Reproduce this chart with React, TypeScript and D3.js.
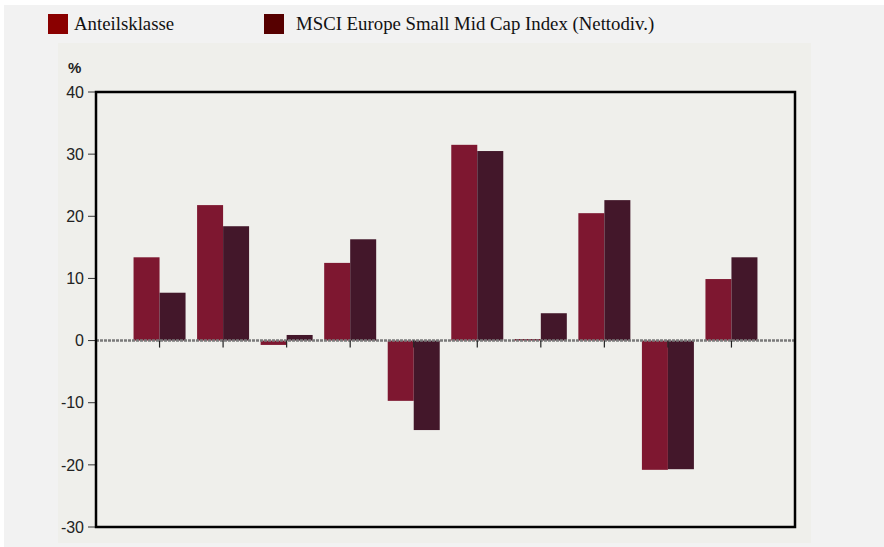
import React from "react";
import * as d3 from "d3";

const categories = ["1", "2", "3", "4", "5", "6", "7", "8", "9", "10"];
const seriesNames = ["Anteilsklasse", "MSCI Europe Small Mid Cap Index (Nettodiv.)"];
const fundValues = [13.4, 21.8, -0.7, 12.5, -9.7, 31.5, 0.25, 20.5, -20.8, 9.9];
const indexValues = [7.7, 18.4, 0.9, 16.3, -14.4, 30.5, 4.4, 22.6, -20.7, 13.4];
const yTicks = [-30, -20, -10, 0, 10, 20, 30, 40];

const W = 884;
const H = 547;
const plot = { left: 96, right: 795, top: 92, bottom: 527 };
const barColors = ["#7e1730", "#43172a"];
const legendColors = ["#8a0000", "#560000"];

export default function App() {
  const x = d3
    .scalePoint<string>()
    .domain(categories)
    .range([plot.left, plot.right])
    .padding(1);
  const y = d3.scaleLinear().domain([-30, 40]).range([plot.bottom, plot.top]);
  const barW = 26;
  const y0 = y(0);
  const series = [fundValues, indexValues];
  const legendPos = [
    { sq: 48, tx: 74 },
    { sq: 264, tx: 296 },
  ];

  return (
    <svg
      width={W}
      height={H}
      style={{ position: "absolute", left: 0, top: 0, display: "block" }}
    >
      <rect x={0} y={0} width={W} height={H} fill="#ffffff" />
      <rect x={4} y={5} width={W - 4} height={H - 5} fill="#f2f2f2" />
      <rect x={58} y={43} width={811 - 58} height={543 - 43} fill="#efefeb" />

      {/* legend */}
      {seriesNames.map((name, i) => (
        <g key={name}>
          <rect x={legendPos[i].sq} y={14} width={20} height={20} fill={legendColors[i]} />
          <text
            x={legendPos[i].tx}
            y={30}
            fontFamily="'Liberation Serif', 'Times New Roman', serif"
            fontSize={18.8}
            fill="#111"
          >
            {name}
          </text>
        </g>
      ))}

      {/* bars */}
      {series.map((vals, si) =>
        vals.map((v, i) => {
          const cx = x(categories[i]) as number;
          const bx = si === 0 ? cx - barW : cx;
          const top = Math.min(y(v), y0);
          const h = Math.abs(y(v) - y0);
          return (
            <rect
              key={`${si}-${i}`}
              x={bx}
              y={top}
              width={barW}
              height={h}
              fill={barColors[si]}
            />
          );
        })
      )}

      {/* zero line */}
      <line
        x1={plot.left}
        x2={plot.right}
        y1={y0}
        y2={y0}
        stroke="#7a7a7a"
        strokeWidth={2.5}
        strokeDasharray="3 1"
      />

      {/* x ticks */}
      {categories.map((c) => (
        <line
          key={c}
          x1={x(c) as number}
          x2={x(c) as number}
          y1={y0}
          y2={y0 + 7}
          stroke="#222"
          strokeWidth={1.2}
        />
      ))}

      {/* y axis ticks and labels */}
      {yTicks.map((t) => (
        <g key={t}>
          <line x1={88} x2={plot.left} y1={y(t)} y2={y(t)} stroke="#333" strokeWidth={1} />
          <text
            x={84}
            y={y(t)}
            dy="0.36em"
            textAnchor="end"
            fontFamily="'Liberation Sans', Arial, sans-serif"
            fontSize={16}
            fill="#222"
          >
            {t}
          </text>
        </g>
      ))}
      <text
        x={68}
        y={73}
        fontFamily="'Liberation Sans', Arial, sans-serif"
        fontSize={15}
        fontWeight="bold"
        fill="#222"
      >
        %
      </text>

      {/* plot border */}
      <rect
        x={plot.left}
        y={plot.top}
        width={plot.right - plot.left}
        height={plot.bottom - plot.top}
        fill="none"
        stroke="#000"
        strokeWidth={2.5}
      />
    </svg>
  );
}
